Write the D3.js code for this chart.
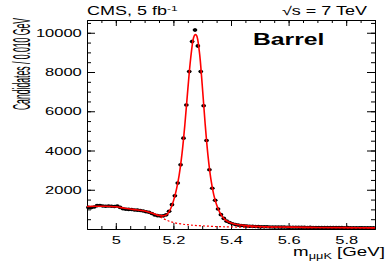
<!DOCTYPE html>
<html>
<head>
<meta charset="utf-8">
<script src="https://cdn.jsdelivr.net/npm/d3@7"></script>
<style>
  body { margin: 0; background: #fff; }
  text { font-family: "Liberation Sans", Arial, sans-serif; fill: #000; }
</style>
</head>
<body>
<div id="chart"></div>
<script>
// histogram: 100 bins of 0.010 GeV starting at 4.9 GeV
var binStart = 4.9, binWidth = 0.01;
var counts = [
  1100, 1090, 1120, 1190, 1200, 1170, 1160, 1170, 1160, 1150,
  1170, 1100, 1030, 1010, 1000, 990, 970, 960, 940, 920,
  880, 850, 790, 710, 680, 660, 670, 720, 900, 1240,
  1690, 2340, 3270, 4630, 6320, 8020, 9550, 10140, 9330, 8020,
  6280, 4510, 3020, 2080, 1460, 1020, 730, 540, 400, 330,
  270, 230, 200, 180, 165, 150, 140, 135, 125, 120,
  115, 110, 112, 105, 100, 104, 98, 95, 97, 92,
  90, 88, 90, 85, 84, 86, 80, 82, 78, 80,
  76, 78, 74, 72, 75, 70, 72, 68, 70, 66,
  68, 64, 66, 62, 64, 60, 62, 58, 60, 58
];

// total fit (solid red)
var fitMass = [4.90, 4.93, 4.96, 5.00, 5.03, 5.06, 5.09, 5.11, 5.13, 5.145, 5.16, 5.17, 5.18,
  5.19, 5.20, 5.21, 5.22, 5.23, 5.24, 5.25, 5.26, 5.27, 5.275, 5.28, 5.29, 5.30, 5.31,
  5.32, 5.33, 5.34, 5.35, 5.36, 5.37, 5.38, 5.40, 5.42, 5.45, 5.50, 5.60, 5.70, 5.80, 5.90];
var fitVal = [1150, 1160, 1160, 1130, 1060, 1000, 940, 880, 790, 710, 670, 690, 780,
  1020, 1420, 1980, 2750, 3850, 5350, 7100, 8700, 9750, 9900, 9870, 9050, 7350, 5400,
  3750, 2550, 1750, 1230, 870, 630, 470, 310, 230, 170, 125, 95, 80, 68, 58];

// background component (dashed red)
var bgMass = [5.13, 5.145, 5.16, 5.18, 5.20, 5.23, 5.26, 5.30, 5.35, 5.40, 5.50, 5.60, 5.70, 5.80, 5.90];
var bgVal = [790, 690, 570, 430, 330, 250, 200, 160, 125, 105, 90, 80, 70, 62, 55];

var xMajor = [5, 5.2, 5.4, 5.6, 5.8];
var yMajor = [2000, 4000, 6000, 8000, 10000];

// set the dimensions and margins of the graph
var margin = {top: 20, right: 16, bottom: 37, left: 87},
  width = 391 - margin.left - margin.right,
  height = 266 - margin.top - margin.bottom;
var sx = 1.5; // the picture is stretched sideways

var svg = d3.select('#chart')
  .append('svg')
  .attr('width', 391)
  .attr('height', 266)
  .append('g')
  .attr('transform', 'translate(' + margin.left + ',' + margin.top + ')');

var x = d3.scaleLinear().domain([4.9, 5.9]).range([0, width]);
var y = d3.scaleLinear().domain([0, 10650]).range([height, 0]);

var xMinor = d3.range(4.95, 5.9, 0.05);
var yMinor = d3.range(500, 10650, 500);

function styleAxis(g) {
  g.selectAll('path').attr('stroke', '#000').attr('stroke-width', 1);
  g.selectAll('line').attr('stroke', '#000').attr('stroke-width', 1);
}

// minor ticks on all four sides
svg.append('g').attr('transform', 'translate(0,' + height + ')')
  .call(d3.axisBottom(x).tickValues(xMinor).tickSize(-3).tickSizeOuter(0).tickFormat(''))
  .call(styleAxis);
svg.append('g')
  .call(d3.axisTop(x).tickValues(xMinor).tickSize(-3).tickSizeOuter(0).tickFormat(''))
  .call(styleAxis);
svg.append('g')
  .call(d3.axisLeft(y).tickValues(yMinor).tickSize(-4).tickSizeOuter(0).tickFormat(''))
  .call(styleAxis);
svg.append('g').attr('transform', 'translate(' + width + ',0)')
  .call(d3.axisRight(y).tickValues(yMinor).tickSize(-4).tickSizeOuter(0).tickFormat(''))
  .call(styleAxis);

// major ticks with labels
var xAxis = svg.append('g').attr('transform', 'translate(0,' + height + ')')
  .call(d3.axisBottom(x).tickValues(xMajor).tickSize(-6).tickSizeOuter(0).tickPadding(7)
    .tickFormat(function (d) { return String(d); }))
  .call(styleAxis);
xAxis.selectAll('text')
  .attr('font-size', 11)
  .attr('transform', 'scale(' + sx + ',1)');
svg.append('g')
  .call(d3.axisTop(x).tickValues(xMajor).tickSize(-6).tickSizeOuter(0).tickFormat(''))
  .call(styleAxis);

var yAxis = svg.append('g')
  .call(d3.axisLeft(y).tickValues(yMajor).tickSize(-8).tickSizeOuter(0)
    .tickFormat(d3.format('d')))
  .call(styleAxis);
yAxis.selectAll('text')
  .attr('font-size', 11)
  .attr('x', -3.5)
  .attr('transform', 'scale(' + sx + ',1)');
svg.append('g').attr('transform', 'translate(' + width + ',0)')
  .call(d3.axisRight(y).tickValues(yMajor).tickSize(-8).tickSizeOuter(0).tickFormat(''))
  .call(styleAxis);

// data points with error bars
var bins = counts.map(function (c, i) {
  return {m: binStart + binWidth * (i + 0.5), n: c};
});
var pts = svg.append('g');
pts.selectAll('line.ey').data(bins).enter().append('line')
  .attr('x1', function (d) { return x(d.m); })
  .attr('x2', function (d) { return x(d.m); })
  .attr('y1', function (d) { return y(d.n - Math.sqrt(d.n)); })
  .attr('y2', function (d) { return y(d.n + Math.sqrt(d.n)); })
  .attr('stroke', '#000').attr('stroke-width', 1);
pts.selectAll('ellipse').data(bins).enter().append('ellipse')
  .attr('cx', function (d) { return x(d.m); })
  .attr('cy', function (d) { return y(d.n); })
  .attr('rx', 2.4)
  .attr('ry', 1.8)
  .attr('fill', '#000');

// fit curves
var line = d3.line()
  .x(function (d) { return x(d[0]); })
  .y(function (d) { return y(d[1]); })
  .curve(d3.curveCatmullRom);

svg.append('path')
  .attr('d', line(d3.zip(bgMass, bgVal)))
  .attr('fill', 'none')
  .attr('stroke', '#ff0000')
  .attr('stroke-width', 1.2)
  .attr('stroke-dasharray', '2,2');
svg.append('path')
  .attr('d', line(d3.zip(fitMass, fitVal)))
  .attr('fill', 'none')
  .attr('stroke', '#ff0000')
  .attr('stroke-width', 1.6);

// titles
function stretched(tx, ty, str, size, anchor, weight) {
  return svg.append('text')
    .attr('transform', 'translate(' + tx + ',' + ty + ') scale(' + sx + ',1)')
    .attr('font-size', size)
    .attr('font-weight', weight || 'normal')
    .attr('text-anchor', anchor)
    .text(str);
}

var cms = stretched(0, -5, 'CMS, 5 fb', 12, 'start');
cms.append('tspan').attr('dy', -4).attr('font-size', 8).text('-1');

stretched(width - 8, -5, '\u221As = 7 TeV', 12, 'end');

stretched(166, 25, 'Barrel', 16.5, 'start', 'bold');

// x axis title
var xt = svg.append('text')
  .attr('transform', 'translate(' + (width + 10) + ',' + (height + 27) + ') scale(' + sx + ',1)')
  .attr('font-size', 12.5)
  .attr('text-anchor', 'end');
xt.append('tspan').text('m');
xt.append('tspan').attr('dy', 2.5).attr('font-size', 8.5).text('\u03BC\u03BCK');
xt.append('tspan').attr('dy', -2.5).text(' [GeV]');

// y axis title
svg.append('text')
  .attr('transform', 'translate(' + (-57) + ',-2) scale(2,0.72) rotate(-90)')
  .attr('font-size', 12)
  .attr('text-anchor', 'end')
  .text('Candidates / 0.010 GeV');
</script>
</body>
</html>
